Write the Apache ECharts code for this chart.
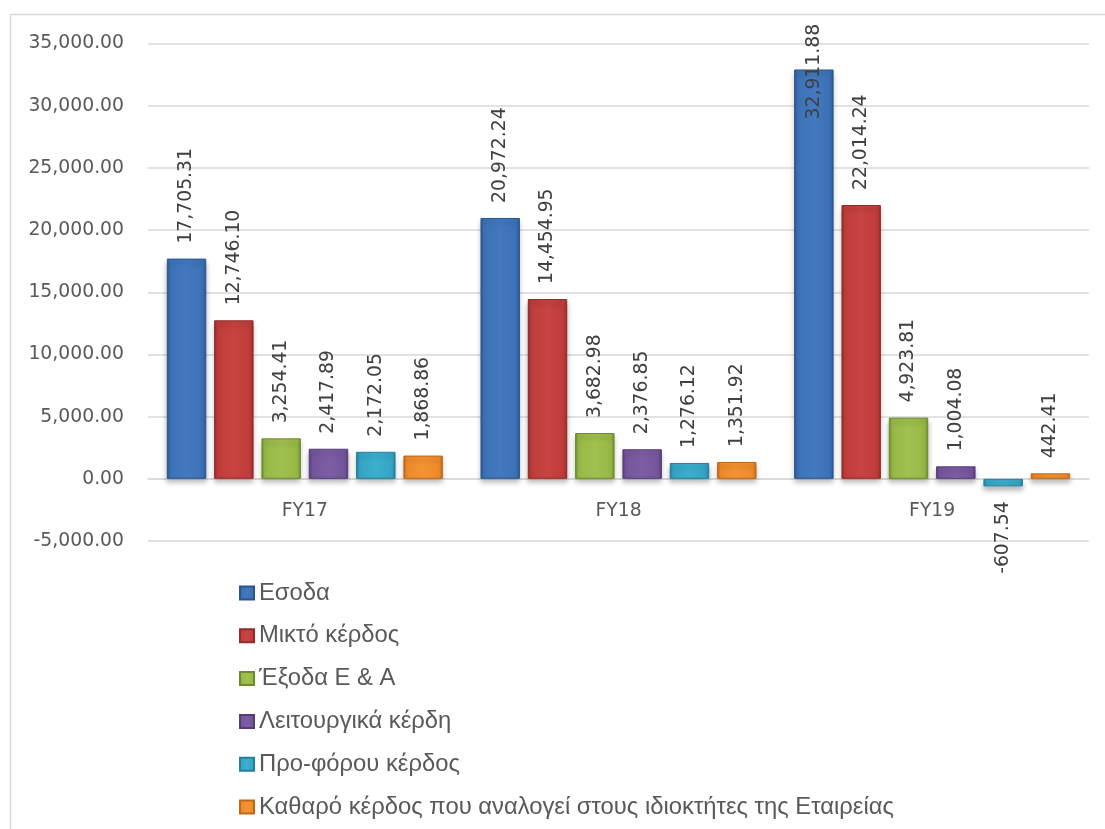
<!DOCTYPE html>
<html>
<head>
<meta charset="utf-8">
<script src="https://cdn.jsdelivr.net/npm/echarts@6/dist/echarts.min.js"></script>
<style>
  html, body { margin: 0; padding: 0; background: #ffffff; }
  #chart { width: 1105px; height: 829px; }
</style>
</head>
<body>
<div id="chart"></div>
<script>
// Fiscal years on the category axis
const categories = ['FY17', 'FY18', 'FY19'];

// Series values per fiscal year
const revenue = [17705.31, 20972.24, 32911.88];
const grossProfit = [12746.10, 14454.95, 22014.24];
const sgaExpenses = [3254.41, 3682.98, 4923.81];
const operatingProfit = [2417.89, 2376.85, 1004.08];
const preTaxProfit = [2172.05, 1276.12, -607.54];
const netProfit = [1868.86, 1351.92, 442.41];

// Series names shown in the legend
const seriesNames = [
  'Εσοδα',
  'Μικτό κέρδος',
  'Έξοδα Ε & Α',
  'Λειτουργικά κέρδη',
  'Προ-φόρου κέρδος',
  'Καθαρό κέρδος που αναλογεί στους ιδιοκτήτες της Εταιρείας'
];
const seriesValues = [revenue, grossProfit, sgaExpenses, operatingProfit, preTaxProfit, netProfit];

// Value axis range
const yMin = -5000;
const yMax = 35000;
const yStep = 5000;

// Base colours and their darker edge tones for the shaded bars
const baseColors = ['#3b71b6', '#bf3c3a', '#96b845', '#74559b', '#34a4c3', '#ee8929'];
const edgeColors = ['#2a5690', '#922b2a', '#6f8a2e', '#553c76', '#22809a', '#c0681a'];
const lightColors = ['#4479bf', '#c84442', '#a0c14f', '#7d5da5', '#3cafcf', '#f59333'];

function fmt(v) {
  const neg = v < 0;
  const parts = Math.abs(v).toFixed(2).split('.');
  parts[0] = parts[0].replace(/\B(?=(\d{3})+(?!\d))/g, ',');
  return (neg ? '-' : '') + parts[0] + '.' + parts[1];
}

function barFill(i) {
  return {
    type: 'linear', x: 0, y: 0, x2: 1, y2: 0,
    colorStops: [
      { offset: 0, color: edgeColors[i] },
      { offset: 0.08, color: baseColors[i] },
      { offset: 0.5, color: lightColors[i] },
      { offset: 0.92, color: baseColors[i] },
      { offset: 1, color: edgeColors[i] }
    ]
  };
}

const labelFont = 'DejaVu Sans';
const textSize = 18.8;

// pixel bounds of the value range, used to drop the x axis onto the zero line
const plotTop = 43.5;
const plotBottom = 541;

const series = seriesValues.map((vals, i) => ({
  name: seriesNames[i],
  type: 'bar',
  barCategoryGap: '12%',
  barGap: '20%',
  itemStyle: {
    color: barFill(i),
    borderColor: edgeColors[i],
    borderWidth: 1,
    shadowColor: 'rgba(0,0,0,0.28)',
    shadowBlur: 5,
    shadowOffsetY: 4
  },
  label: {
    show: true,
    position: 'top',
    rotate: 90,
    align: 'left',
    verticalAlign: 'middle',
    distance: 15,
    color: '#404040',
    fontFamily: labelFont,
    fontSize: textSize,
    formatter: p => fmt(p.value)
  },
  data: vals.map(v => {
    const item = { value: v };
    if (v < 0) {
      item.label = { position: 'bottom', align: 'right', verticalAlign: 'middle', distance: 15 };
    } else if (v > yMax - 3500) {
      // keep the tall bar's label inside the chart frame
      item.label = { position: 'top', align: 'left', verticalAlign: 'middle', distance: -50 };
    }
    return item;
  })
}));

const zeroOffset = -(plotBottom - plotTop) * (0 - yMin) / (yMax - yMin);

const chart = echarts.init(document.getElementById('chart'));
chart.setOption({
  backgroundColor: '#ffffff',
  animation: false,
  graphic: [{
    type: 'rect',
    shape: { x: 10.5, y: 14.5, width: 1200, height: 900 },
    style: { fill: 'none', stroke: '#d9d9d9', lineWidth: 1.5 },
    silent: true,
    z: -1
  }],
  grid: { left: 148, right: 16, top: plotTop, bottom: 829 - plotBottom, containLabel: false },
  legend: {
    orient: 'vertical',
    left: 239,
    top: 581,
    padding: 0,
    itemWidth: 14,
    itemHeight: 13,
    itemGap: 18.8,
    icon: 'rect',
    textStyle: { fontFamily: 'Liberation Sans', fontSize: 23.8, color: '#595959' },
    data: seriesNames
  },
  xAxis: {
    type: 'category',
    data: categories,
    offset: zeroOffset,
    axisLine: { show: true, onZero: false, lineStyle: { color: '#d9d9d9', width: 1.5 } },
    axisTick: { show: false },
    axisLabel: { color: '#595959', fontFamily: labelFont, fontSize: textSize, margin: 23 }
  },
  yAxis: {
    type: 'value',
    min: yMin,
    max: yMax,
    interval: yStep,
    axisLine: { show: false },
    axisTick: { show: false },
    splitLine: { lineStyle: { color: '#d9d9d9', width: 1.5 } },
    axisLabel: {
      color: '#595959',
      fontFamily: labelFont,
      fontSize: textSize,
      margin: 24,
      formatter: v => fmt(v)
    }
  },
  series: series
});
</script>
</body>
</html>
